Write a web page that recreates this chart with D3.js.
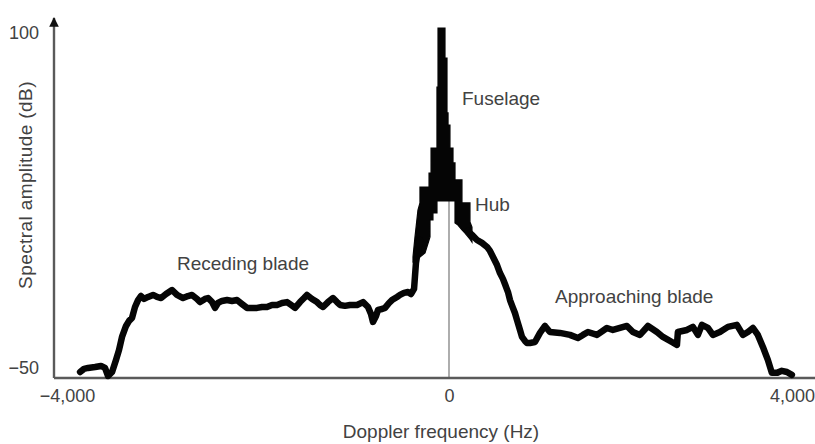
<!DOCTYPE html>
<html>
<head>
<meta charset="utf-8">
<script src="https://cdn.jsdelivr.net/npm/d3@7"></script>
<style>
  html, body { margin: 0; padding: 0; background: #fff; }
  svg { display: block; }
  text { font-family: "Liberation Sans", Arial, sans-serif; fill: #424242; }
</style>
</head>
<body>
<svg id="chart" width="815" height="444"></svg>
<script>
// Doppler spectrum of a helicopter return: frequency (Hz) vs spectral amplitude (dB)
const xTicks = [-4000, 0, 4000];
const yTicks = [-50, 100];

// Receding-blade side of the spectrum, up to the foot of the central peak
const recedingTrace = [
  [-3863, -51.8], [-3822, -50.4], [-3780, -50.0], [-3706, -49.6], [-3644, -49.1],
  [-3602, -50.0], [-3570, -53.6], [-3528, -51.8], [-3487, -46.4], [-3455, -41.9],
  [-3424, -36.1], [-3382, -31.2], [-3350, -28.9], [-3319, -27.6], [-3288, -22.7],
  [-3256, -19.6], [-3225, -17.8], [-3193, -19.1], [-3151, -18.2], [-3099, -17.3],
  [-3057, -18.2], [-3015, -18.7], [-2963, -16.9], [-2900, -15.1], [-2848, -17.3],
  [-2785, -18.7], [-2733, -17.8], [-2691, -17.3], [-2638, -19.1], [-2607, -20.5],
  [-2555, -19.1], [-2523, -18.7], [-2481, -20.5], [-2450, -23.1], [-2419, -20.9],
  [-2377, -20.0], [-2324, -19.6], [-2272, -20.0], [-2220, -19.6], [-2167, -21.4],
  [-2115, -23.1], [-2063, -23.1], [-2010, -23.1], [-1958, -22.7], [-1906, -22.7],
  [-1853, -21.8], [-1801, -21.8], [-1748, -20.9], [-1696, -20.5], [-1654, -21.8],
  [-1612, -23.1], [-1560, -20.5], [-1518, -18.7], [-1487, -17.3], [-1434, -19.1],
  [-1382, -20.5], [-1351, -21.8], [-1319, -22.7], [-1267, -20.5], [-1215, -18.7],
  [-1173, -20.5], [-1141, -21.8], [-1089, -22.2], [-1037, -21.8], [-963, -21.8],
  [-900, -20.5], [-848, -22.7], [-817, -25.8], [-796, -29.4], [-764, -26.7],
  [-743, -24.0], [-701, -23.6], [-670, -23.1], [-628, -20.9], [-597, -19.6],
  [-544, -18.2], [-513, -17.3], [-471, -16.4], [-429, -16.0], [-398, -16.9],
  [-366, -14.6], [-356, -8.8], [-346, -3.0], [-325, 2.8], [-304, 7.3]
];

// Approaching-blade side, from the hub down to the upper band edge
const approachingTrace = [
  [218, 11.3], [264, 9.6], [322, 7.3], [379, 6.0], [437, 4.2], [471, 2.4],
  [506, -0.3], [552, -3.9], [586, -7.5], [620, -10.1], [643, -12.4], [678, -16.0],
  [701, -19.6], [735, -23.1], [758, -25.4], [781, -28.5], [816, -33.0], [839, -36.1],
  [873, -37.9], [896, -38.8], [931, -38.8], [988, -38.4], [1046, -34.3], [1103, -31.2],
  [1160, -33.9], [1275, -34.3], [1390, -35.2], [1482, -36.6], [1540, -35.2], [1597, -33.9],
  [1701, -35.2], [1815, -32.1], [1884, -33.0], [1965, -32.1], [2045, -31.2], [2114, -33.9],
  [2195, -35.2], [2287, -31.2], [2390, -33.9], [2459, -36.1], [2562, -38.4], [2620, -39.7],
  [2631, -33.9], [2735, -33.0], [2804, -31.6], [2861, -35.2], [2907, -30.7], [2976, -32.1],
  [3033, -35.2], [3114, -33.9], [3206, -31.6], [3309, -30.7], [3378, -35.2], [3436, -33.9],
  [3493, -32.1], [3550, -35.2], [3608, -40.6], [3665, -46.4], [3711, -52.2], [3769, -52.2],
  [3826, -51.3], [3884, -51.8], [3941, -53.1]
];

// Fuselage / hub returns: min and max envelope of the rapidly fluctuating peak
// [frequency, low dB, high dB]
const peakBand = [
  [-377, -2.5, -0.3], [-356, -2.1, 8.7], [-325, -0.8, 20.7], [-304, -0.3, 23.9],
  [-304, -0.3, 31.0], [-251, 1.5, 31.0], [-209, 7.3, 31.0], [-209, 7.3, 37.3],
  [-199, 8.7, 37.3], [-199, 16.3, 37.3], [-188, 16.3, 37.3], [-188, 16.3, 48.5],
  [-168, 16.3, 48.5], [-168, 19.4, 48.5], [-126, 19.4, 48.5], [-126, 24.8, 75.8],
  [-115, 24.8, 75.8], [-115, 24.8, 102.2], [-42, 24.8, 102.2], [-42, 24.8, 88.8],
  [-21, 24.8, 88.8], [-21, 24.8, 64.2], [-10, 24.8, 64.2], [-10, 24.8, 58.8],
  [11, 24.8, 58.8], [11, 24.8, 48.5], [46, 24.8, 48.5], [46, 24.8, 41.8],
  [69, 24.8, 41.8], [69, 14.9, 34.2], [103, 14.0, 34.2], [149, 11.8, 34.2],
  [149, 11.8, 23.9], [184, 10.4, 23.9], [241, 7.7, 23.9], [241, 7.7, 15.4],
  [264, 6.4, 13.1]
];

// Annotations placed in data coordinates (left edge, baseline)
const annotations = [
  { text: "Fuselage", f: 149, db: 67.8 },
  { text: "Hub", f: 299, db: 20.3 },
  { text: "Receding blade", f: -2848, db: -6.1 },
  { text: "Approaching blade", f: 1218, db: -20.9 }
];

const xTitle = "Doppler frequency (Hz)";
const yTitle = "Spectral amplitude (dB)";

// ---- layout ----
const W = 815, H = 444;
const plotLeft = 54, plotBottom = 378, plotTop = 12;
const yMin = -54.5, yMax = 109.4;

const svg = d3.select("#chart");

const x = d3.scaleLinear().domain([-4000, 0, 4000]).range([67, 449, 797]);
const y = d3.scaleLinear().domain([yMin, yMax]).range([plotBottom, plotTop]);

// arrowhead for the amplitude axis
svg.append("defs").append("marker")
  .attr("id", "arrow")
  .attr("viewBox", "0 0 10 10")
  .attr("refX", 9).attr("refY", 5)
  .attr("markerWidth", 4).attr("markerHeight", 4)
  .attr("markerUnits", "strokeWidth")
  .attr("orient", "auto")
  .append("path").attr("d", "M0,0 L10,5 L0,10 Z").attr("fill", "#111");

// zero-frequency reference line, below the peak
const zeroLow = peakBand.reduce((a, b) => Math.abs(b[0]) < Math.abs(a[0]) ? b : a)[1];
svg.append("line")
  .attr("x1", x(0)).attr("x2", x(0))
  .attr("y1", y(zeroLow)).attr("y2", y(yMin))
  .attr("stroke", "#777").attr("stroke-width", 1.2);

// axes
svg.append("line")
  .attr("x1", plotLeft).attr("x2", W)
  .attr("y1", y(yMin)).attr("y2", y(yMin))
  .attr("stroke", "#5a5a5a").attr("stroke-width", 2.4);

svg.append("line")
  .attr("x1", plotLeft).attr("x2", plotLeft)
  .attr("y1", y(yMin)).attr("y2", y(yMax) + 6)
  .attr("stroke", "#5a5a5a").attr("stroke-width", 2.4)
  .attr("marker-end", "url(#arrow)");

const fmt = d3.format(",");

const xAxis = svg.append("g")
  .attr("transform", `translate(0,${y(yMin)})`)
  .call(d3.axisBottom(x).tickValues(xTicks).tickSize(0).tickPadding(11).tickFormat(fmt));
xAxis.select(".domain").remove();
// keep the rightmost label inside the frame
xAxis.selectAll(".tick text").filter(d => d === d3.max(xTicks)).attr("dx", -5);

const yAxis = svg.append("g")
  .attr("transform", `translate(${plotLeft},0)`)
  .call(d3.axisLeft(y).tickValues(yTicks).tickSize(0).tickPadding(15).tickFormat(fmt));
yAxis.select(".domain").remove();

svg.selectAll(".tick text")
  .attr("font-size", 18)
  .attr("font-family", "\"Liberation Sans\", Arial, sans-serif")
  .attr("fill", "#424242");

// spectrum: envelope of the central peak, then the two blade traces
svg.append("path")
  .datum(peakBand)
  .attr("fill", "#050505")
  .attr("stroke", "#050505")
  .attr("stroke-width", 1.2)
  .attr("d", d3.area().x(d => x(d[0])).y0(d => y(d[1])).y1(d => y(d[2])));

const line = d3.line().x(d => x(d[0])).y(d => y(d[1]));
[recedingTrace, approachingTrace].forEach(trace => {
  svg.append("path")
    .datum(trace)
    .attr("fill", "none")
    .attr("stroke", "#050505")
    .attr("stroke-width", 6.5)
    .attr("stroke-linejoin", "round")
    .attr("stroke-linecap", "round")
    .attr("d", line);
});

// labels
svg.selectAll("text.note")
  .data(annotations)
  .join("text")
  .attr("class", "note")
  .attr("x", d => x(d.f))
  .attr("y", d => y(d.db))
  .attr("font-size", 19)
  .text(d => d.text);

svg.append("text")
  .attr("x", 441).attr("y", 438)
  .attr("text-anchor", "middle")
  .attr("font-size", 19)
  .text(xTitle);

svg.append("text")
  .attr("transform", "translate(32,185) rotate(-90)")
  .attr("text-anchor", "middle")
  .attr("font-size", 19)
  .attr("letter-spacing", 0.4)
  .text(yTitle);
</script>
</body>
</html>
